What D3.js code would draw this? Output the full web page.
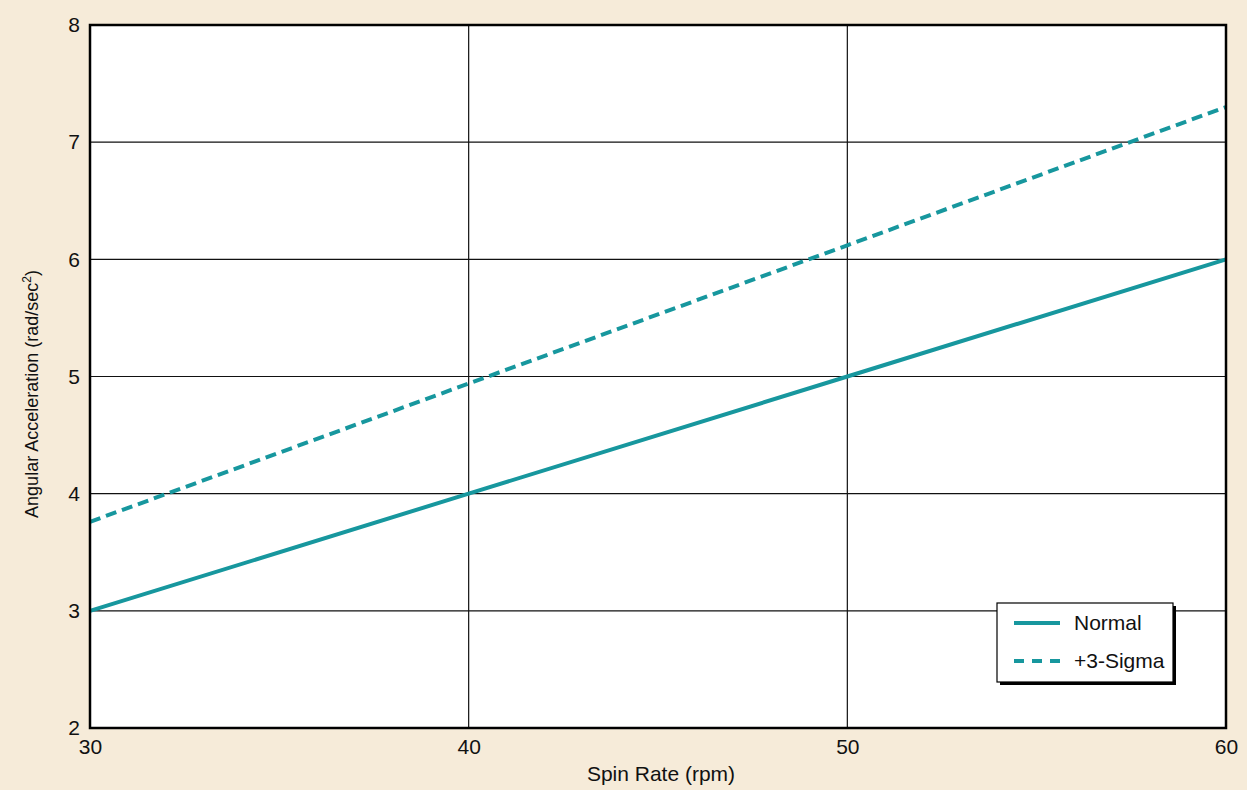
<!DOCTYPE html>
<html><head><meta charset="utf-8">
<script src="https://cdn.jsdelivr.net/npm/d3@7"></script>
<style>html,body{margin:0;padding:0;background:#f6ebd9;}svg{display:block;}</style>
</head><body>
<svg id="c" width="1247" height="790"></svg>
<script>
const spinRate = [30, 40, 50, 60];
const normal = [3.0, 4.0, 5.0, 6.0];
const sigma3 = [3.76, 4.94, 6.12, 7.30];
const xTicks = [30, 40, 50, 60];
const yTicks = [2, 3, 4, 5, 6, 7, 8];
const seriesNames = ["Normal", "+3-Sigma"];

const svg = d3.select("#c");
const W = 1247, H = 790;
const m = {l: 90, r: 21, t: 25, b: 62};
const x = d3.scaleLinear().domain([30, 60]).range([m.l, W - m.r]);
const y = d3.scaleLinear().domain([2, 8]).range([H - m.b, m.t]);
const teal = "#17979e";
const font = "'Liberation Sans', Arial, Helvetica, sans-serif";

svg.append("rect").attr("width", W).attr("height", H).attr("fill", "#f6ebd9");
svg.append("rect").attr("x", m.l).attr("y", m.t).attr("width", x(60) - m.l).attr("height", y(2) - m.t).attr("fill", "#fff");

// grid
svg.append("g").selectAll("line").data(xTicks.slice(1, -1)).join("line")
  .attr("x1", d => x(d)).attr("x2", d => x(d)).attr("y1", m.t).attr("y2", y(2))
  .attr("stroke", "#111").attr("stroke-width", 1.2);
svg.append("g").selectAll("line").data(yTicks.slice(1, -1)).join("line")
  .attr("x1", m.l).attr("x2", x(60)).attr("y1", d => y(d)).attr("y2", d => y(d))
  .attr("stroke", "#111").attr("stroke-width", 1.2);

// axes labels via d3 axes
const xAxis = svg.append("g").attr("transform", `translate(0,${y(2)})`)
  .call(d3.axisBottom(x).tickValues(xTicks).tickSize(0).tickPadding(11).tickFormat(d3.format("d")));
xAxis.select(".domain").remove();
xAxis.selectAll("text").attr("font-family", font).attr("font-size", 21).attr("fill", "#111");

const yAxis = svg.append("g").attr("transform", `translate(${m.l},0)`)
  .call(d3.axisLeft(y).tickValues(yTicks).tickSize(0).tickPadding(10).tickFormat(d3.format("d")));
yAxis.select(".domain").remove();
yAxis.selectAll("text").attr("font-family", font).attr("font-size", 21).attr("fill", "#111");

// lines
const data = [normal, sigma3];
const line = d3.line().x((d, i) => x(spinRate[i])).y(d => y(d));
svg.append("g").selectAll("path").data(data).join("path")
  .attr("d", d => line(d)).attr("fill", "none").attr("stroke", teal).attr("stroke-width", 4)
  .attr("stroke-dasharray", (d, i) => i === 1 ? "11,6" : null);

// frame
svg.append("rect").attr("x", m.l).attr("y", m.t).attr("width", x(60) - m.l).attr("height", y(2) - m.t)
  .attr("fill", "none").attr("stroke", "#000").attr("stroke-width", 2.5);

// axis titles
svg.append("text").attr("x", 661).attr("y", 781).attr("text-anchor", "middle")
  .attr("font-family", font).attr("font-size", 21).attr("fill", "#111").text("Spin Rate (rpm)");
const yt = svg.append("text").attr("transform", `translate(38,394) rotate(-90)`)
  .attr("text-anchor", "middle").attr("font-family", font).attr("font-size", 18).attr("fill", "#111");
yt.append("tspan").text("Angular Acceleration (rad/sec");
yt.append("tspan").attr("font-size", 12).attr("dy", -7).text("2");
yt.append("tspan").attr("dy", 7).text(")");

// legend
const lg = svg.append("g").attr("transform", "translate(997,603)");
lg.append("rect").attr("x", 3).attr("y", 3).attr("width", 176).attr("height", 79).attr("fill", "#000");
lg.append("rect").attr("x", 0).attr("y", 0).attr("width", 176).attr("height", 79).attr("fill", "#fff")
  .attr("stroke", "#000").attr("stroke-width", 1.2);
seriesNames.forEach((s, i) => {
  const yy = 20 + i * 38;
  lg.append("line").attr("x1", 17).attr("x2", 63).attr("y1", yy).attr("y2", yy)
    .attr("stroke", teal).attr("stroke-width", 4).attr("stroke-dasharray", i === 1 ? "10,8" : null);
  lg.append("text").attr("x", 77).attr("y", yy + 7).attr("font-family", font).attr("font-size", 21)
    .attr("fill", "#111").text(s);
});
</script>
</body></html>
